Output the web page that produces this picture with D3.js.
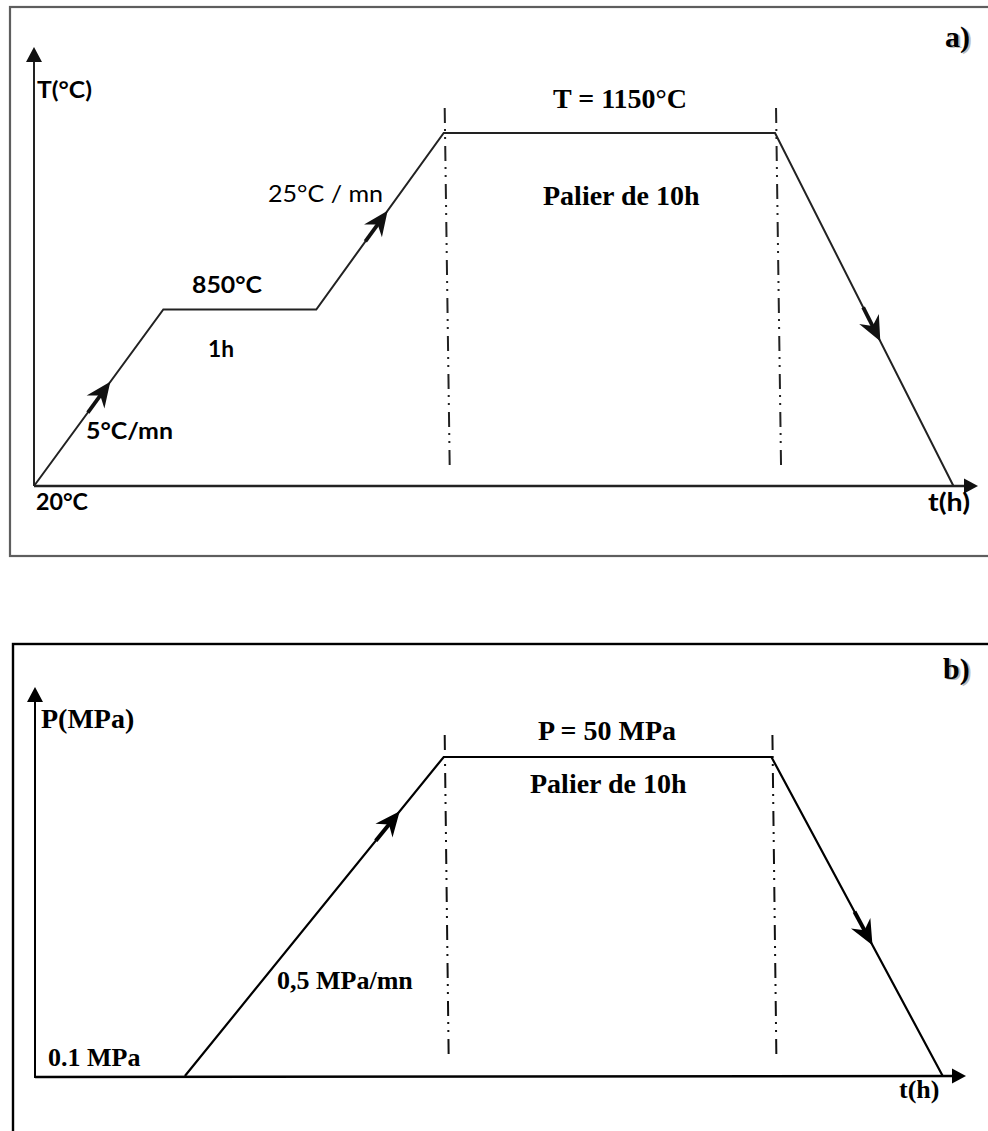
<!DOCTYPE html>
<html><head><meta charset="utf-8">
<script src="https://cdn.jsdelivr.net/npm/d3@7/dist/d3.min.js"></script>
<style>body{margin:0;background:#fff}svg{display:block}</style>
</head><body><svg id="c" width="988" height="1131"></svg>
<script>
// ---------- data (schematic time units 0–100, not to scale) ----------
const tempTime = [0, 13.7, 29.9, 43.4, 78.5, 97.4];
const tempLevel = ["20°C", "850°C", "850°C", "1150°C", "1150°C", "20°C"];
const tempLevels = ["20°C", "850°C", "1150°C"];
const tempDwellBounds = [43.4, 78.5];
const tempArrowSegments = [0, 2, 4];
const tempArrowFractions = [0.59, 0.56, 0.59];

const pressTime = [16.1, 43.9, 79.1, 97.5];
const pressValue = [0.1, 50, 50, 0.1];
const pressDomain = [0.1, 50];
const pressDwellBounds = [43.9, 79.1];
const pressArrowSegments = [0, 2];
const pressArrowFractions = [0.83, 0.59];

const panelLetters = ["a)", "b)"];
const yAxisTitles = ["T(°C)", "P(MPa)"];
const xAxisTitle = "t(h)";
const tempLevelLabels = ["20°C", "850°C", "T = 1150°C"];
const tempDurationLabels = ["1h", "Palier de 10h"];
const tempRateLabels = ["5°C/mn", "25°C / mn"];
const pressLevelLabels = ["0.1 MPa", "P = 50 MPa"];
const pressDurationLabels = ["Palier de 10h"];
const pressRateLabels = ["0,5 MPa/mn"];

// ---------- drawing ----------
const svg = d3.select("#c");
const SANS = "Lato, 'Open Sans', sans-serif";
const SERIF = "'Liberation Serif', 'Times New Roman', serif";

function label(g, s, x, y, o) {
  const t = g.append("text").attr("x", x).attr("y", y).text(s)
    .attr("font-family", o.serif ? SERIF : SANS)
    .attr("font-size", o.size)
    .attr("font-weight", o.weight || "bold")
    .attr("fill", o.fill || "#000");
  if (o.len) t.attr("textLength", o.len).attr("lengthAdjust", "spacingAndGlyphs");
  return t;
}
function axisArrow(g, tip, dir, len, hw, color) {
  const [dx, dy] = dir;
  const nx = -dy, ny = dx;
  const bx = tip[0] - dx * len, by = tip[1] - dy * len;
  g.append("path")
    .attr("d", `M${tip[0]},${tip[1]}L${bx + nx * hw},${by + ny * hw}L${bx - nx * hw},${by - ny * hw}Z`)
    .attr("fill", color);
}
function flowArrows(g, pts, segs, fracs, color, w) {
  segs.forEach((si, k) => {
    const p0 = pts[si], p1 = pts[si + 1];
    const f = fracs[k];
    const tip = [p0[0] + (p1[0] - p0[0]) * f, p0[1] + (p1[1] - p0[1]) * f];
    const L = Math.hypot(p1[0] - p0[0], p1[1] - p0[1]);
    const ux = (p1[0] - p0[0]) / L, uy = (p1[1] - p0[1]) / L;
    g.append("line")
      .attr("x1", tip[0] - ux * 38).attr("y1", tip[1] - uy * 38)
      .attr("x2", tip[0] - ux * 10).attr("y2", tip[1] - uy * 10)
      .attr("stroke", color).attr("stroke-width", w + 1.8);
    const ang = Math.atan2(uy, ux) * 180 / Math.PI;
    g.append("path")
      .attr("d", "M0,0L-25,-11L-17,0L-25,11Z")
      .attr("transform", `translate(${tip[0]},${tip[1]}) rotate(${ang})`)
      .attr("fill", color);
  });
}
function dashDot(g, x0, x1, y0, y1, color) {
  g.append("line").attr("x1", x0).attr("y1", y0).attr("x2", x1).attr("y2", y1)
    .attr("stroke", color).attr("stroke-width", 2)
    .attr("stroke-dasharray", "15,6,2,6,2,7");
}

// ===== Panel a =====
const ga = svg.append("g");
ga.append("rect").attr("x", 10).attr("y", 7).attr("width", 1000).attr("height", 549)
  .attr("fill", "none").attr("stroke", "#5e5e5e").attr("stroke-width", 2.2);

const xA = d3.scaleLinear().domain([0, 100]).range([34, 978]);
const yA = d3.scalePoint().domain(tempLevels).range([486, 133]);
const lineColA = "#222";

ga.append("line").attr("x1", xA(0)).attr("y1", yA("20°C")).attr("x2", xA(0)).attr("y2", 58)
  .attr("stroke", lineColA).attr("stroke-width", 2);
axisArrow(ga, [xA(0), 47], [0, -1], 15, 8, "#111");
ga.append("line").attr("x1", xA(0)).attr("y1", yA("20°C")).attr("x2", xA(100) - 10).attr("y2", yA("20°C"))
  .attr("stroke", lineColA).attr("stroke-width", 2.4);
axisArrow(ga, [xA(100), yA("20°C")], [1, 0], 14, 7.5, "#111");

tempDwellBounds.forEach(t => dashDot(ga, xA(t) + 1, xA(t) + 6, 108, 466, "#222"));

const ptsA = tempTime.map((t, i) => [xA(t), yA(tempLevel[i])]);
ga.append("path").attr("d", d3.line()(ptsA))
  .attr("fill", "none").attr("stroke", lineColA).attr("stroke-width", 2);
flowArrows(ga, ptsA, tempArrowSegments, tempArrowFractions, "#111", 2);

label(ga, panelLetters[0], 947, 48, { serif: true, size: 30, fill: "#bbb" });
label(ga, panelLetters[0], 945, 47, { serif: true, size: 30 });
label(ga, yAxisTitles[0], 37, 98, { size: 22, len: 55 });
label(ga, xAxisTitle, 928, 511, { size: 24, len: 42 });
label(ga, tempLevelLabels[0], 36, 510, { size: 23, len: 52 });
label(ga, tempLevelLabels[1], 192, 293, { size: 23, len: 70 });
label(ga, tempLevelLabels[2], 553, 108, { serif: true, size: 28 });
label(ga, tempDurationLabels[0], 208, 357, { size: 23, len: 26 });
label(ga, tempDurationLabels[1], 543, 205, { serif: true, size: 28 });
label(ga, tempRateLabels[0], 86, 439, { size: 23, len: 87 });
label(ga, tempRateLabels[1], 268, 202, { size: 23, len: 115, weight: "normal" });

// ===== Panel b =====
const gb = svg.append("g");
gb.append("rect").attr("x", 13).attr("y", 644).attr("width", 1000).attr("height", 600)
  .attr("fill", "none").attr("stroke", "#000").attr("stroke-width", 2.4);

const xB = d3.scaleLinear().domain([0, 100]).range([35, 966]);
const yB = d3.scaleLinear().domain(pressDomain).range([1076, 757]);
const lineColB = "#000";

gb.append("line").attr("x1", xB(0)).attr("y1", 1078).attr("x2", xB(0)).attr("y2", 698)
  .attr("stroke", lineColB).attr("stroke-width", 2);
axisArrow(gb, [xB(0), 687], [0, -1], 15, 8, "#000");
gb.append("line").attr("x1", xB(0)).attr("y1", 1077).attr("x2", xB(100) - 10).attr("y2", 1076)
  .attr("stroke", lineColB).attr("stroke-width", 2.4);
axisArrow(gb, [xB(100), 1076], [1, 0], 14, 7.5, "#000");

pressDwellBounds.forEach(t => dashDot(gb, xB(t) + 1, xB(t) + 5, 735, 1060, "#111"));

const ptsB = pressTime.map((t, i) => [xB(t), yB(pressValue[i])]);
gb.append("path").attr("d", d3.line()(ptsB))
  .attr("fill", "none").attr("stroke", lineColB).attr("stroke-width", 2.2);
flowArrows(gb, ptsB, pressArrowSegments, pressArrowFractions, "#000", 2.2);

label(gb, panelLetters[1], 945, 680, { serif: true, size: 30, fill: "#bbb" });
label(gb, panelLetters[1], 943, 679, { serif: true, size: 30 });
label(gb, yAxisTitles[1], 41, 728, { serif: true, size: 28 });
label(gb, xAxisTitle, 899, 1098, { serif: true, size: 26 });
label(gb, pressLevelLabels[0], 48, 1066, { serif: true, size: 26 });
label(gb, pressLevelLabels[1], 538, 740, { serif: true, size: 28 });
label(gb, pressDurationLabels[0], 530, 793, { serif: true, size: 28 });
label(gb, pressRateLabels[0], 277, 989, { serif: true, size: 26 });
</script></body></html>
